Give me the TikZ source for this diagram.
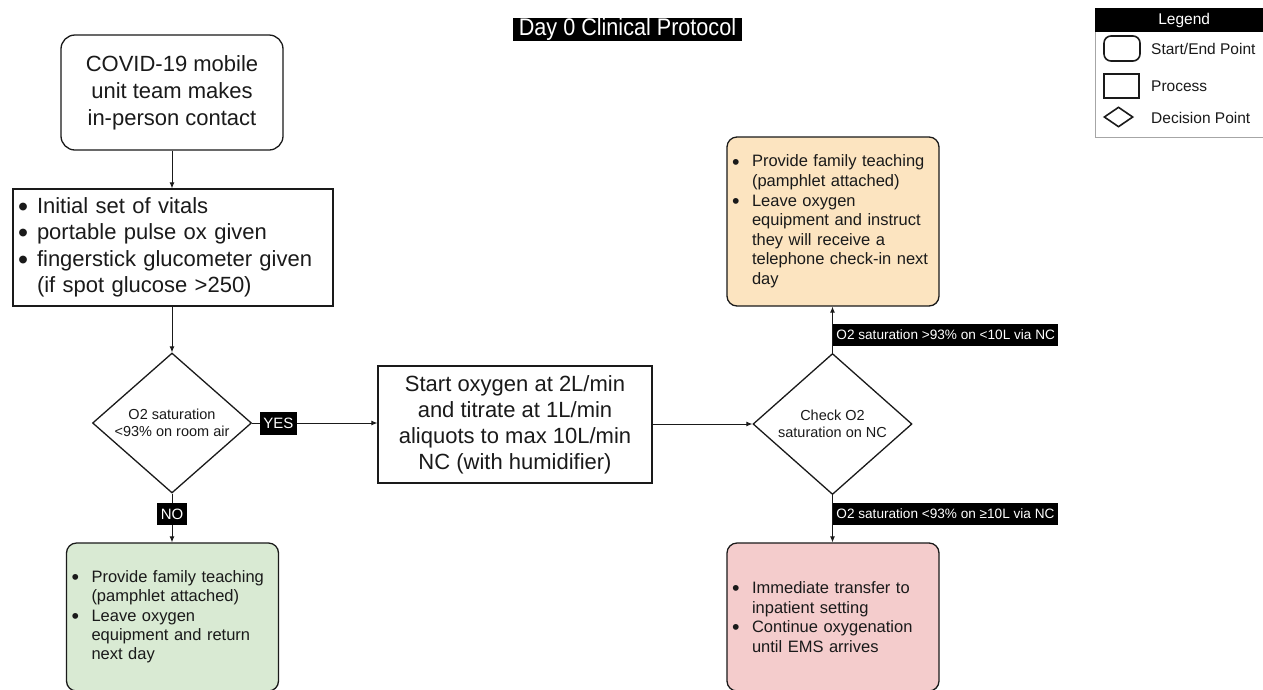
\documentclass[tikz,border=0pt]{standalone}
\usepackage{fontspec}
\setmainfont{Liberation Sans}
\usetikzlibrary{shapes.geometric,arrows.meta}
\definecolor{fgreen}{HTML}{D9EAD3}
\definecolor{forange}{HTML}{FCE4C0}
\definecolor{fred}{HTML}{F4CCCC}
\definecolor{ink}{HTML}{1A1A1A}
\newlength\mybw
\setlength\mybw{20pt}
\newcommand\myb{\makebox[\mybw][l]{\raisebox{-0.25ex}{\scalebox{1.3}{\textbullet}}}}
\newcommand\myc{\hspace*{\mybw}}
\begin{document}
\begin{tikzpicture}[x=1pt,y=-1pt,
  box/.style={draw=ink, line width=1.3pt, text=ink, inner sep=0pt},
  proc/.style={box, rectangle},
  term/.style={box, rounded corners=14pt},
  soft/.style={box, rounded corners=10pt, minimum width=212pt, text width=202pt, align=left,
     font=\fontsize{16.5}{19.6}\selectfont},
  dec/.style={box, diamond, aspect=1.15},
  arr/.style={-{Latex[length=6pt,width=5pt]}, line width=0.9pt, draw=ink},
  tag/.style={fill=black, text=white, inner xsep=3.5pt, inner ysep=0pt, minimum height=22pt,
     font=\fontsize{13.6}{16}\selectfont},
  legtxt/.style={anchor=west, inner sep=0pt, text=ink, font=\fontsize{15.5}{18}\selectfont}]
\useasboundingbox (0,0) rectangle (1263,689);
\fill[white] (0,0) rectangle (1263,689);

% title
\node[fill=black, text=white, font=\fontsize{24}{26}\selectfont, minimum width=229pt,
  minimum height=23pt, inner sep=0pt] (title) at (627.5,29.5) {\scalebox{0.9}[1]{Day 0 Clinical Protocol}};

% legend
\node[draw=gray!70, line width=0.8pt, minimum width=178pt, minimum height=129pt,
  anchor=north west, inner sep=0pt] (legbox) at (1095,8) {};
\node[fill=black, text=white, minimum width=178pt, minimum height=24pt, anchor=north west,
  inner sep=0pt, font=\fontsize{15.5}{18}\selectfont] (leghead) at (1095,8) {Legend};
\node[box, rounded corners=7pt, line width=1.6pt, minimum width=36pt, minimum height=25pt] (lterm) at (1122,48.5) {};
\node[legtxt] (ltermt) at (1151,48.5) {Start/End Point};
\node[proc, line width=1.6pt, minimum width=35pt, minimum height=24pt] (lproc) at (1121.5,86) {};
\node[legtxt] (lproct) at (1151,86) {Process};
\node[box, diamond, line width=1.6pt, minimum width=29pt, minimum height=20pt] (ldec) at (1118.5,117) {};
\node[legtxt] (ldect) at (1151,118) {Decision Point};

% main flow
\node[term, minimum width=222pt, minimum height=115pt, align=center,
  font=\fontsize{22}{27}\selectfont] (start) at (172,92.5)
  {COVID-19 mobile\\unit team makes\\in-person contact};

\node[proc, minimum width=320pt, minimum height=117pt, text width=310pt, align=left,
  font=\fontsize{22}{26.5}\selectfont\setlength\mybw{19pt}] (vit) at (173,247.5)
  {\myb Initial set of vitals\\\myb portable pulse ox given\\\myb fingerstick glucometer given\\\myc(if spot glucose >250)};

\node[dec, minimum width=159pt, minimum height=140pt, align=center,
  font=\fontsize{14.5}{17}\selectfont] (d1) at (172,423)
  {O2 saturation\\<93\% on room air};

\node[proc, minimum width=274pt, minimum height=117pt, align=center,
  font=\fontsize{22}{26}\selectfont] (oxy) at (515,424.5)
  {Start oxygen at 2L/min\\and titrate at 1L/min\\aliquots to max 10L/min\\NC (with humidifier)};

\node[dec, minimum width=159pt, minimum height=141pt, align=center,
  font=\fontsize{14.5}{16.5}\selectfont] (d2) at (832.5,424)
  {Check O2\\saturation on NC};

\node[soft, fill=fgreen, minimum height=148pt, font=\fontsize{16.5}{19.3}\selectfont] (green) at (172.5,617)
  {\myb Provide family teaching\\\myc(pamphlet attached)\\\myb Leave oxygen\\\myc equipment and return\\\myc next day};

\node[soft, fill=forange, minimum height=169pt] (yel) at (833,221.5)
  {\myb Provide family teaching\\\myc(pamphlet attached)\\\myb Leave oxygen\\\myc equipment and instruct\\\myc they will receive a\\\myc telephone check-in next\\\myc day};

\node[soft, fill=fred, minimum height=148pt] (red) at (833,617)
  {\myb Immediate transfer to\\\myc inpatient setting\\\myb Continue oxygenation\\\myc until EMS arrives};

% connectors
\draw[arr] (start.south) -- (start.south |- vit.north);
\draw[arr] (d1.north |- vit.south) -- (d1.north);
\draw[arr] (d1.south) -- (d1.south |- green.north)
  node[tag, pos=0.42, font=\fontsize{15}{17}\selectfont] (no) {NO};
\draw[arr] (d1.east) -- (d1.east -| oxy.west)
  node[tag, pos=0.21, font=\fontsize{15}{17}\selectfont, minimum height=23pt] (yes) {YES};
\draw[arr] (oxy.east |- d2.west) -- (d2.west);
\draw[arr] (d2.north) -- (d2.north |- yel.south)
  node[tag, pos=0.39, anchor=west] (hi) {O2 saturation >93\% on <10L via NC};
\draw[arr] (d2.south) -- (d2.south |- red.north)
  node[tag, pos=0.40, anchor=west] (lo) {O2 saturation <93\% on ≥10L via NC};
\end{tikzpicture}
\end{document}
